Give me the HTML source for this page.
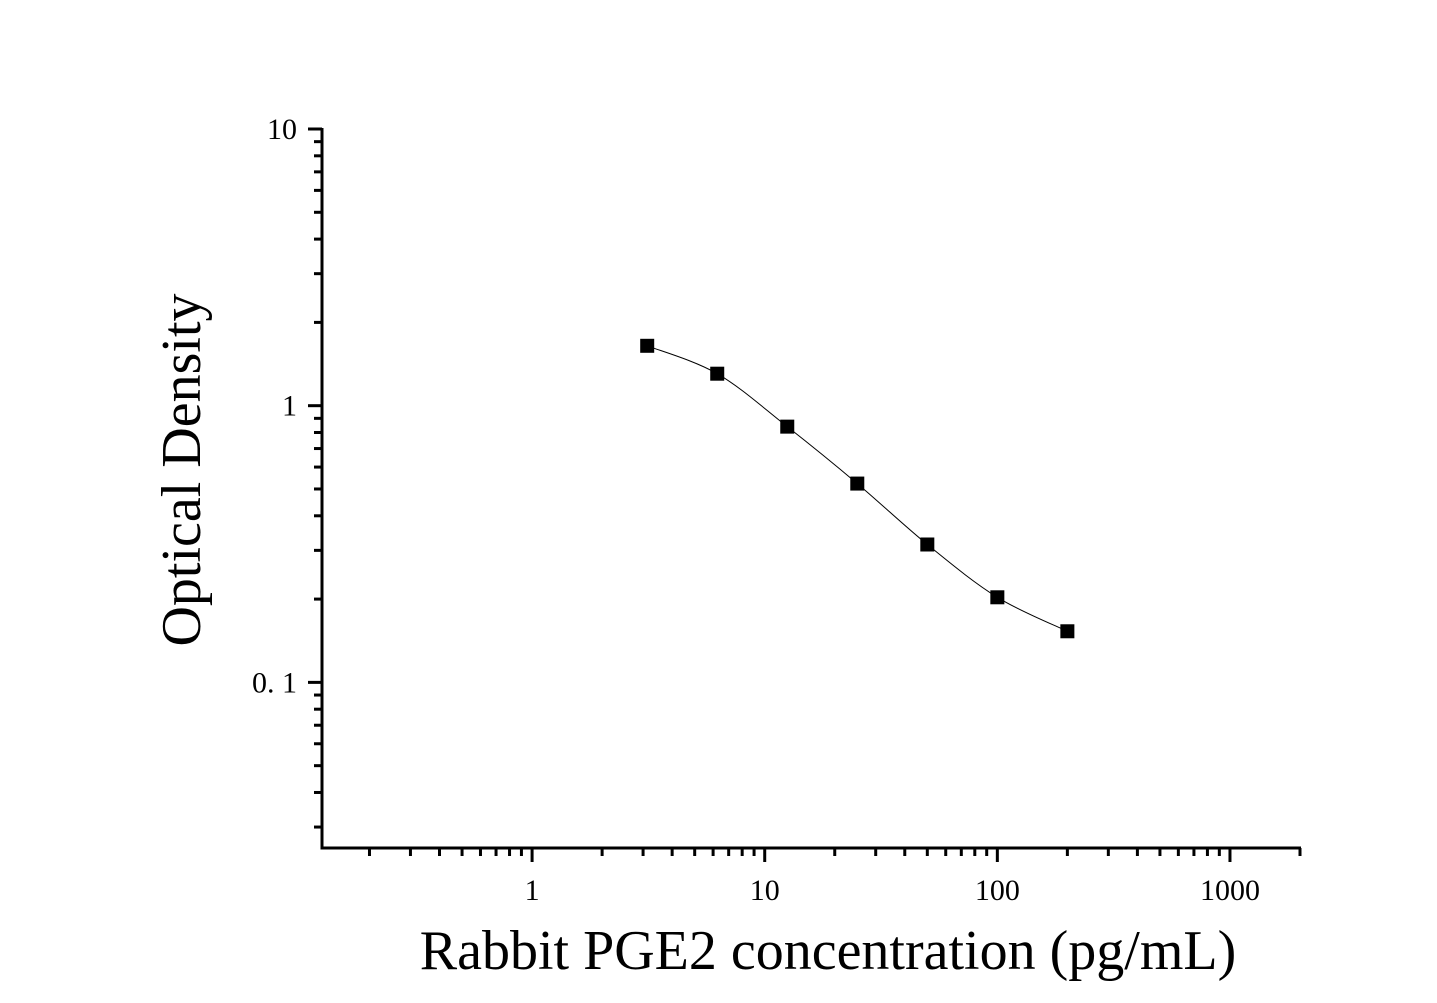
<!DOCTYPE html>
<html><head><meta charset="utf-8"><style>
html,body{margin:0;padding:0;background:#fff;}
svg{display:block;font-family:"Liberation Serif",serif;}
</style></head><body>
<svg id="chart" width="1437" height="1003">
<g id="axes"></g>
<g id="plot"></g>
<text x="828" y="969" font-size="56" text-anchor="middle">Rabbit PGE2 concentration (pg/mL)</text>
<text transform="translate(200,470) rotate(-90)" font-size="56" text-anchor="middle">Optical Density</text>
</svg>
<script>
const concentrations = [3.125, 6.25, 12.5, 25, 50, 100, 200];
const odValues = [1.646, 1.305, 0.840, 0.523, 0.315, 0.203, 0.153];
const xTickValues = [1, 10, 100, 1000];
const xTickLabels = ["1", "10", "100", "1000"];
const yTickValues = [0.1, 1, 10];
const yTickLabels = ["0. 1", "1", "10"];

const X0=322, X1=1300, Y0=848, Y1=129;
const xMin=0.125, xMax=2000, yMin=0.0252, yMax=10;
const NS="http://www.w3.org/2000/svg";
function sx(v){return X0+(Math.log10(v)-Math.log10(xMin))/(Math.log10(xMax)-Math.log10(xMin))*(X1-X0);}
function sy(v){return Y0-(Math.log10(v)-Math.log10(yMin))/(Math.log10(yMax)-Math.log10(yMin))*(Y0-Y1);}
function mk(tag,attrs,parent){const e=document.createElementNS(NS,tag);for(const k in attrs)e.setAttribute(k,attrs[k]);parent.appendChild(e);return e;}
const axes=document.getElementById('axes'), plot=document.getElementById('plot');

const xl=mk('line',{x1:X0,y1:Y0,x2:X1+1,y2:Y0,stroke:'#000','stroke-width':3},axes);


const yl=mk('line',{x1:X0,y1:Y0+1.5,x2:X0,y2:Y1-1,stroke:'#000','stroke-width':3},axes);



for(let d=-1; d<=3; d++){
  for(let m=1;m<=9;m++){
    const v=m*Math.pow(10,d);
    if(v<xMin||v>xMax)continue;
    const x=sx(v), major=m===1;
    const t=mk('line',{x1:x,y1:Y0,x2:x,y2:Y0+(major?14:8),stroke:'#000','stroke-width':3},axes);
    
    
  }
}
xTickValues.forEach((v,i)=>{
  const t=mk('text',{x:sx(v),y:900,'font-size':30,'text-anchor':'middle'},axes);
  t.textContent=xTickLabels[i];
  
  
});
for(let d=-2; d<=1; d++){
  for(let m=1;m<=9;m++){
    const v=m*Math.pow(10,d);
    if(v<yMin||v>yMax+1e-9)continue;
    const y=sy(v), major=m===1;
    const t=mk('line',{x1:X0,y1:y,x2:X0-(major?14:8),y2:y,stroke:'#000','stroke-width':3},axes);
    
    
  }
}
yTickValues.forEach((v,i)=>{
  const t=mk('text',{x:297,y:sy(v)+10,'font-size':30,'text-anchor':'end'},axes);
  t.textContent=yTickLabels[i];
  
  
});

const pts=concentrations.map((c,i)=>[sx(c),sy(odValues[i])]);
let d='M'+pts[0][0]+','+pts[0][1];
for(let i=0;i<pts.length-1;i++){
  const p0=pts[Math.max(0,i-1)],p1=pts[i],p2=pts[i+1],p3=pts[Math.min(pts.length-1,i+2)];
  const c1=[p1[0]+(p2[0]-p0[0])/6,p1[1]+(p2[1]-p0[1])/6];
  const c2=[p2[0]-(p3[0]-p1[0])/6,p2[1]-(p3[1]-p1[1])/6];
  d+=' C'+c1+' '+c2+' '+p2;
}
const curve=mk('path',{d:d,fill:'none',stroke:'#000','stroke-width':1},plot);



pts.forEach(p=>{
  const r=mk('rect',{x:p[0]-7,y:p[1]-7,width:14,height:14,fill:'#000'},plot);
  
  
});
</script>
</body></html>
